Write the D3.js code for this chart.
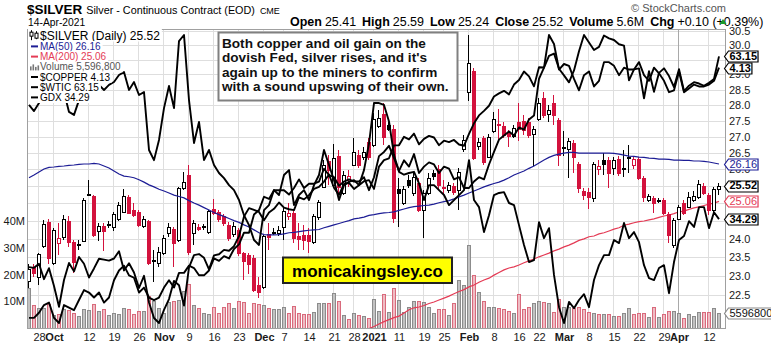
<!DOCTYPE html>
<html><head><meta charset="utf-8">
<script src="https://d3js.org/d3.v7.min.js"></script>
<style>
html,body{margin:0;padding:0;background:#fff;}
svg{display:block;font-family:"Liberation Sans",Arial,Helvetica,sans-serif;}
</style></head><body>
<svg width="771" height="345"></svg>
<script>
// ---------------- DATA ----------------
const dateGroups = [
 ["2020-09",[24,25,28,29,30]],
 ["2020-10",[1,2,5,6,7,8,9,12,13,14,15,16,19,20,21,22,23,26,27,28,29,30]],
 ["2020-11",[2,3,4,5,6,9,10,11,12,13,16,17,18,19,20,23,24,25,27,30]],
 ["2020-12",[1,2,3,4,7,8,9,10,11,14,15,16,17,18,21,22,23,24,28,29,30,31]],
 ["2021-01",[4,5,6,7,8,11,12,13,14,15,19,20,21,22,25,26,27,28,29]],
 ["2021-02",[1,2,3,4,5,8,9,10,11,12,16,17,18,19,22,23,24,25,26]],
 ["2021-03",[1,2,3,4,5,8,9,10,11,12,15,16,17,18,19,22,23,24,25,26,29,30,31]],
 ["2021-04",[1,5,6,7,8,9,12,13,14]]
];
const dates = dateGroups.flatMap(([m,ds]) => ds.map(d => m + "-" + String(d).padStart(2,"0")));

const open = [22.87,23.23,22.97,23.80,24.46,23.35,23.89,24.06,24.49,23.91,
23.86,23.94,25.27,25.21,24.22,24.36,24.42,24.34,24.56,24.76,
25.19,24.81,24.76,24.36,24.49,23.43,23.35,23.62,24.17,24.28,
23.97,25.45,25.83,24.17,24.34,24.35,24.20,24.85,24.76,24.64,
24.39,24.14,24.25,23.62,23.56,23.48,22.76,22.71,24.14,24.20,
24.17,24.34,24.64,24.73,24.08,24.11,24.11,23.91,24.61,25.48,
26.25,25.53,26.40,25.30,25.71,26.13,26.43,26.37,26.83,26.74,
27.33,27.71,27.36,27.23,25.41,25.01,25.68,25.30,25.59,24.81,
25.30,25.89,26.01,25.49,25.39,25.50,25.39,26.62,28.42,29.13,
26.71,26.95,26.37,27.17,27.39,27.33,27.11,27.02,27.46,27.49,
27.46,27.08,27.55,28.21,27.71,28.05,27.52,26.68,26.62,26.80,
26.16,25.36,25.33,25.15,26.01,26.28,26.28,26.04,26.31,26.01,
26.37,26.13,26.31,25.74,25.10,25.15,25.10,25.10,24.70,23.83,
24.56,25.01,24.90,25.10,25.19,25.50,25.24,24.81,25.41];
const high = [23.31,23.31,23.61,24.53,24.56,24.31,24.45,24.67,24.63,23.97,
23.97,25.15,25.68,25.24,24.45,24.45,24.50,24.76,25.04,25.42,
25.24,25.01,24.81,24.64,24.53,23.70,23.78,24.11,24.45,24.33,
25.48,25.93,26.13,24.53,24.42,24.42,24.81,25.13,24.81,24.70,
24.48,24.48,24.31,23.64,23.62,23.56,22.97,24.14,24.45,24.31,
24.36,24.90,25.01,24.79,24.45,24.39,24.31,24.70,25.10,26.28,
26.43,26.78,26.59,25.95,25.98,26.95,26.59,26.68,26.95,27.74,
27.84,28.05,27.46,27.36,25.74,25.50,25.83,25.92,25.74,25.39,
25.89,25.98,26.13,25.68,25.62,25.59,26.04,27.05,30.35,29.22,
26.95,27.02,27.08,27.77,27.87,27.46,27.20,27.36,28.05,27.68,
27.58,27.33,28.21,28.41,28.00,28.32,27.58,27.17,26.95,26.89,
26.22,25.45,25.45,26.22,26.28,26.49,26.37,26.37,26.40,26.59,
26.74,26.40,26.37,25.80,25.27,25.21,25.15,25.15,24.76,24.59,
24.95,25.10,25.33,25.36,25.68,25.59,25.30,25.48,25.59];
const low = [22.68,22.97,22.76,23.75,23.31,23.29,23.56,23.97,23.78,23.08,
23.70,23.91,25.20,24.06,23.94,23.67,24.30,24.22,24.50,24.73,
24.70,24.61,24.33,24.31,23.29,22.84,23.24,23.56,24.06,23.24,
23.91,25.39,23.56,23.83,24.22,24.25,24.14,24.67,24.47,24.36,
23.94,24.06,23.53,22.89,23.05,22.58,22.42,22.66,23.70,24.11,
24.08,23.97,24.53,23.89,23.70,23.70,23.61,23.86,24.53,25.45,
25.53,25.48,25.24,25.24,25.48,26.10,26.04,26.28,26.28,26.68,
27.27,26.74,27.17,24.45,24.33,24.95,25.45,25.21,24.76,24.03,
25.24,25.68,25.39,25.24,25.30,25.24,24.81,26.52,28.13,26.28,
26.59,26.13,26.34,27.11,26.89,26.95,26.68,26.95,26.86,27.05,
26.95,26.10,27.49,27.58,27.46,27.36,26.10,26.40,25.74,25.89,
25.30,25.10,24.84,25.04,25.83,25.83,25.45,25.83,25.80,25.77,
25.89,26.01,25.68,25.04,25.04,24.73,25.01,24.67,23.89,23.75,
24.53,24.67,24.87,25.04,25.13,25.24,24.67,24.76,25.24];
const close = [23.18,23.08,23.59,24.42,23.48,24.25,24.03,24.56,23.91,23.37,
23.83,25.10,25.24,24.11,24.36,24.22,24.39,24.70,24.95,25.21,
24.73,24.67,24.39,24.56,23.35,23.39,23.64,24.03,24.33,23.89,
25.45,25.62,23.64,24.45,24.28,24.33,24.78,24.73,24.56,24.45,
24.03,24.36,23.62,23.40,23.32,22.63,22.58,24.08,24.06,24.19,
24.25,24.78,24.73,24.03,24.00,23.97,23.94,24.64,25.04,26.13,
25.98,26.34,25.48,25.83,25.80,26.52,26.13,26.52,26.37,27.55,
27.58,26.98,27.23,24.58,25.30,25.41,25.53,25.77,24.81,25.30,
25.74,25.80,25.53,25.46,25.53,25.33,25.92,26.89,29.39,26.35,
26.83,26.22,26.98,27.55,27.36,27.05,27.02,27.26,27.24,27.20,
27.05,27.23,28.05,27.68,27.84,27.68,26.43,26.64,26.86,26.37,
25.45,25.24,25.19,26.16,26.10,26.16,25.89,26.28,25.89,26.04,
26.34,26.31,25.74,25.19,25.20,25.01,25.07,24.73,24.11,24.53,
24.90,24.73,25.19,25.21,25.56,25.30,24.81,25.42,25.52];
// volume in millions
const volumeM = [15,8.6,7.5,7.5,9,5,5.2,7,6.8,5.6,
4.5,7,6.6,9,6.3,7,5,5.6,5.4,7.5,
7,5.2,6.4,6.3,12,10.2,7.5,5.6,9.6,10.2,
10.5,13.8,16.5,8.6,7.5,5.6,5.4,7.7,5.6,7.9,
9.2,7.5,10.2,9.8,5.6,9.2,8.9,8.6,7.5,7,
7,7.8,5.6,8.2,5.6,5.4,5.4,6,9.2,9.2,
9.2,13,10,5,3.4,5.6,5,4.6,3.6,10.8,
6.4,12.7,6,15,10.5,6,8,10,10,9.6,
7.8,5.6,7,7,5,9.2,18,16,31,20,
13.5,10,8,7.8,7.5,7,6.5,5.6,12.7,7,
8,9.2,10,9.8,9.2,6,11,7.8,8,7.5,
8,7,6,5.5,5.4,5.4,5.4,4.6,4.6,5.6,
7.5,5.4,5.6,5.6,4.3,8,4.3,5.4,6.4,6.2,
5.6,3.6,5.4,4.6,6,6,6,7.5,5.5968];
const ma50 = [25.75,25.83,25.92,26.01,26.06,26.07,26.09,26.10,26.12,26.13,
26.15,26.16,26.16,26.18,26.16,26.10,26.04,25.95,25.86,25.80,
25.78,25.75,25.69,25.62,25.54,25.48,25.41,25.36,25.30,25.24,
25.20,25.16,25.08,25.01,24.95,24.88,24.81,24.74,24.68,24.63,
24.57,24.51,24.46,24.39,24.33,24.25,24.17,24.12,24.11,24.11,
24.12,24.14,24.17,24.18,24.20,24.22,24.24,24.25,24.26,24.31,
24.35,24.39,24.43,24.47,24.51,24.56,24.58,24.61,24.66,24.68,
24.71,24.73,24.74,24.76,24.80,24.84,24.88,24.91,24.92,24.94,
24.95,24.98,25.02,25.05,25.08,25.13,25.19,25.24,25.30,25.36,
25.42,25.48,25.53,25.58,25.62,25.68,25.75,25.83,25.89,25.95,
26.03,26.10,26.19,26.28,26.36,26.42,26.46,26.49,26.51,26.51,
26.49,26.49,26.49,26.49,26.49,26.49,26.49,26.48,26.46,26.43,
26.40,26.39,26.37,26.36,26.34,26.33,26.31,26.31,26.30,26.28,
26.28,26.27,26.27,26.25,26.25,26.24,26.22,26.19,26.16];
// MA(200): below the visible price range before early January (not shown)
const ma200 = [null,null,null,null,null,null,null,null,null,null,
null,null,null,null,null,null,null,null,null,null,
null,null,null,null,null,null,null,null,null,null,
null,null,null,null,null,null,null,null,null,null,
null,null,null,null,null,null,null,null,null,null,
null,null,null,null,null,null,null,null,null,null,
null,null,null,null,null,null,null,21.59,21.65,21.70,
21.76,21.82,21.87,21.92,21.96,22.04,22.12,22.17,22.19,22.23,
22.28,22.32,22.37,22.42,22.47,22.53,22.59,22.64,22.71,22.76,
22.83,22.89,22.94,23.02,23.09,23.16,23.21,23.24,23.29,23.35,
23.40,23.45,23.51,23.56,23.61,23.67,23.72,23.78,23.83,23.89,
23.96,24.00,24.06,24.08,24.14,24.17,24.22,24.27,24.31,24.38,
24.41,24.45,24.48,24.50,24.53,24.56,24.60,24.64,24.67,24.71,
24.76,24.78,24.83,24.87,24.90,24.94,24.98,25.01,25.06];
const copper = [2.98,2.98,3.00,3.03,3.04,2.98,2.96,3.03,3.02,3.01,
3.05,3.09,3.08,3.06,3.08,3.04,3.06,3.13,3.17,3.19,
3.15,3.14,3.08,3.10,3.06,3.05,3.06,3.10,3.13,3.10,
3.16,3.16,3.19,3.18,3.15,3.15,3.17,3.22,3.21,3.23,
3.22,3.26,3.28,3.33,3.33,3.41,3.43,3.49,3.48,3.52,
3.52,3.52,3.50,3.53,3.57,3.53,3.55,3.55,3.56,3.62,
3.59,3.58,3.54,3.56,3.57,3.56,3.56,3.58,3.52,3.58,
3.68,3.70,3.73,3.67,3.61,3.66,3.63,3.69,3.60,3.63,
3.65,3.64,3.60,3.63,3.62,3.57,3.58,3.53,3.53,3.56,
3.58,3.57,3.64,3.70,3.76,3.78,3.80,3.78,3.82,3.81,
3.86,3.88,4.07,4.13,4.31,4.26,4.12,4.15,4.14,4.07,
4.01,4.09,4.11,4.03,4.06,4.16,4.16,4.14,4.09,4.13,
4.12,4.12,4.16,4.09,4.06,4.13,4.10,4.06,4.00,4.01,
4.11,4.00,4.02,4.04,4.03,4.03,4.04,4.06,4.13];
const wtic = [40.31,40.25,40.60,39.29,40.22,38.72,37.05,39.22,40.67,39.95,
41.19,40.60,39.43,40.20,41.04,40.96,40.88,41.06,41.70,40.03,
40.64,39.85,38.56,39.57,37.39,36.17,35.79,36.81,37.66,39.15,
38.79,37.14,40.29,41.36,41.45,41.12,40.13,41.34,41.43,41.82,
41.74,42.15,43.06,44.91,45.71,45.53,45.34,44.55,45.28,45.64,
46.26,45.76,45.60,45.52,46.78,46.57,46.99,47.62,47.82,48.36,
49.10,47.74,47.02,48.12,48.23,47.62,48.00,48.40,48.52,47.62,
49.93,50.63,50.83,52.24,52.25,53.21,52.91,53.57,52.36,52.98,
53.31,53.13,52.27,52.77,52.61,52.85,52.34,52.20,53.55,54.76,
55.69,56.23,56.85,57.97,58.36,58.68,58.24,59.47,60.05,61.14,
60.52,59.24,61.70,61.67,63.22,63.53,61.50,60.64,59.75,61.28,
63.83,66.09,65.05,64.01,64.44,66.02,65.61,65.39,64.80,64.60,
60.00,61.42,61.55,57.76,61.18,58.56,60.97,61.56,60.55,59.16,
61.45,58.65,59.33,59.77,59.60,59.32,59.70,60.18,63.15];
const gdx = [38.31,38.08,38.38,38.68,38.49,38.87,38.57,38.79,38.05,37.94,
38.49,39.63,39.71,38.94,39.06,38.87,39.06,39.17,39.44,39.55,
38.87,39.17,38.68,38.79,36.67,36.31,37.03,38.19,39.02,38.19,
40.76,41.00,38.49,36.92,37.68,36.31,36.67,36.14,35.86,35.68,
35.44,35.27,34.93,34.42,34.09,33.60,33.44,34.59,34.76,35.27,
35.10,35.79,35.96,34.76,35.10,35.27,34.93,35.44,35.79,36.67,
36.14,35.61,34.93,35.44,35.55,35.61,35.44,35.96,36.90,38.38,
38.38,38.31,37.70,36.49,35.90,35.80,35.86,35.90,35.50,34.93,
35.44,35.44,35.27,35.10,34.76,34.93,35.10,35.27,36.31,34.93,
34.69,33.86,34.42,35.10,35.17,35.20,34.83,34.76,34.09,33.44,
32.89,32.95,34.19,33.66,33.99,32.48,31.48,31.00,31.64,31.45,
31.70,31.88,31.48,32.32,32.79,33.11,33.11,33.60,33.50,34.16,
33.66,33.86,33.53,32.79,32.38,32.32,32.70,32.79,31.91,32.89,
33.60,33.73,34.22,34.03,34.69,34.69,33.99,34.52,34.29];

const priceTicks = [22.5,23,23.5,24,24.5,25,25.5,26,26.5,27,27.5,28,28.5,29,29.5,30,30.5];
const volumeTicks = [10,20,30,40];
const tickDates = ["2020-09-28","2020-10-01","2020-10-12","2020-10-19","2020-10-26","2020-11-02","2020-11-09","2020-11-16","2020-11-23","2020-12-01","2020-12-07","2020-12-14","2020-12-21","2020-12-28","2021-01-04","2021-01-11","2021-01-19","2021-01-25","2021-02-01","2021-02-08","2021-02-16","2021-02-22","2021-03-01","2021-03-08","2021-03-15","2021-03-22","2021-03-29","2021-04-01","2021-04-12"];
const tickLabels = ["28","Oct","12","19","26","Nov","9","16","23","Dec","7","14","21","28","2021","11","19","25","Feb","8","16","22","Mar","8","15","22","29","Apr","12"];
const noteLines = ["Both copper and oil gain on the","dovish Fed, silver rises, and it's","again up to the miners to confirm","with a sound upswing of their own."];

// ---------------- CHART ----------------
const svg = d3.select("svg");
const FONT = '"Liberation Sans", Arial, sans-serif';
const PL = 27, PR = 725, PT = 29, PB = 328;
const RED = "#d3123d", BLUE = "#1d1d95", MA2C = "#e43b55";
const n = dates.length, idx = d3.range(n), last = n - 1;

const x = d3.scalePoint().domain(dates).range([29, 719]);
const y = d3.scaleLog().domain([21.661, 30.557]).range([PB, PT]);
const yVol = d3.scaleLinear().domain([0, 112]).range([PB, PT]);
const ovScale = v => d3.scaleLog().domain(d3.extent(v)).range([323, 35]);
const yCu = ovScale(copper), yOil = ovScale(wtic), yGdx = ovScale(gdx);
const X = i => x(dates[i]);
const down = i => i > 0 ? close[i] < close[i-1] : close[i] < open[i];
const fmt2 = d3.format(".2f");

// right-side value tags (computed first so fully covered tick labels can be skipped)
const tags = [
  {v:yVol(volumeM[last]), t:String(Math.round(volumeM[last]*1e6)), s:"#8a8a8a", c:"#111", b:false},
  {v:yGdx(gdx[last]), t:fmt2(gdx[last]), s:"#000", c:"#000", b:true},
  {v:y(ma200[last]), t:fmt2(ma200[last]), s:MA2C, c:MA2C, b:false},
  {v:y(close[last]), t:fmt2(close[last]), s:"#000", c:"#000", b:true},
  {v:y(ma50[last]), t:fmt2(ma50[last]), s:BLUE, c:BLUE, b:false},
  {v:yOil(wtic[last]), t:fmt2(wtic[last]), s:"#000", c:"#000", b:true},
  {v:yCu(copper[last]), t:fmt2(copper[last]), s:"#000", c:"#000", b:true}
];
const labelTicks = priceTicks.filter(p => !tags.some(t => Math.abs(y(p) - t.v) < 4.8));

svg.append("defs").append("clipPath").attr("id","plotclip")
  .append("rect").attr("x",PL).attr("y",PT).attr("width",PR-PL).attr("height",PB-PT);

// grid
const grid = svg.append("g").attr("shape-rendering","crispEdges");
grid.selectAll("line.h").data(priceTicks).join("line").attr("class","h")
  .attr("x1",PL).attr("x2",PR).attr("y1",d=>Math.round(y(d))+0.5).attr("y2",d=>Math.round(y(d))+0.5)
  .attr("stroke","#dedede");
grid.selectAll("line.v").data(tickDates).join("line").attr("class","v")
  .attr("x1",d=>x(d)-0.5).attr("x2",d=>x(d)-0.5).attr("y1",PT).attr("y2",PB)
  .attr("stroke",d=> d==="2021-04-01" ? "#a9a9a9" : "#dedede");

const plot = svg.append("g").attr("clip-path","url(#plotclip)");

// volume
plot.append("g").attr("shape-rendering","crispEdges").selectAll("rect").data(idx).join("rect")
  .attr("x",i=>X(i)-1.5).attr("width",3)
  .attr("y",i=>Math.round(yVol(volumeM[i]))+0.5)
  .attr("height",i=>PB - Math.round(yVol(volumeM[i])))
  .attr("fill",i=>down(i) ? "#efbcc4" : "#c2c2c2")
  .attr("stroke",i=>down(i) ? "#d96a7c" : "#8c8c8c");

// MA200 & MA50
const maLine = arr => d3.line().defined(i=>arr[i]!=null).x(X).y(i=>y(arr[i]));
plot.append("path").attr("d",maLine(ma200)(idx)).attr("fill","none").attr("stroke",MA2C).attr("stroke-width",1.2);

// candles
const cg = plot.append("g").attr("shape-rendering","crispEdges");
cg.selectAll("line").data(idx).join("line")
  .attr("x1",i=>X(i)-0.5).attr("x2",i=>X(i)-0.5)
  .attr("y1",i=>y(high[i])).attr("y2",i=>y(low[i]))
  .attr("stroke",i=>down(i)?RED:"#000");
cg.selectAll("rect").data(idx).join("rect")
  .attr("x",i=>X(i)-1.5).attr("width",3)
  .attr("y",i=>Math.round(y(Math.max(open[i],close[i])))+0.5)
  .attr("height",i=>Math.max(1, Math.round(y(Math.min(open[i],close[i]))) - Math.round(y(Math.max(open[i],close[i])))))
  .attr("fill",i=> close[i] > open[i] ? "#fff" : (down(i)?RED:"#000"))
  .attr("stroke",i=>down(i)?RED:"#000");

plot.append("path").attr("d",maLine(ma50)(idx)).attr("fill","none").attr("stroke",BLUE).attr("stroke-width",1.2);

// overlays
[[copper,yCu],[wtic,yOil],[gdx,yGdx]].forEach(([arr,sc])=>{
  plot.append("path").attr("d",d3.line().x(X).y(i=>sc(arr[i]))(idx))
    .attr("fill","none").attr("stroke","#000").attr("stroke-width",1.9).attr("stroke-linejoin","round");
});

// border
svg.append("rect").attr("x",PL+0.5).attr("y",PT+0.5).attr("width",PR-PL).attr("height",PB-PT)
  .attr("fill","none").attr("stroke","#a0a0a0").attr("shape-rendering","crispEdges");

// axes
const styleAxis = g => { g.attr("font-family",FONT).attr("font-size",11); g.select(".domain").remove(); g.selectAll("text").attr("fill","#1a1a1a"); };
svg.append("g").attr("transform",`translate(${PR},0)`)
  .call(d3.axisRight(y).tickValues(labelTicks).tickFormat(d3.format(".1f")).tickSize(0).tickPadding(4)).call(styleAxis);
svg.append("g").attr("transform",`translate(${PL},0)`)
  .call(d3.axisLeft(yVol).tickValues(volumeTicks).tickFormat(d=>d+"M").tickSize(0).tickPadding(2)).call(styleAxis);
const xa = svg.append("g").attr("transform",`translate(0,${PB})`)
  .call(d3.axisBottom(x).tickValues(tickDates).tickFormat((d,i)=>tickLabels[i]).tickSize(0).tickPadding(5)).call(styleAxis);
xa.selectAll("text").attr("font-weight",(d,i)=> /^[A-Z]|2021/.test(tickLabels[i]) ? "bold" : null);

// annotation box
const nb = svg.append("g");
nb.append("rect").attr("x",218.5).attr("y",32.5).attr("width",239).attr("height",68)
  .attr("fill","#fff").attr("stroke","#808080").attr("stroke-width",2);
nb.selectAll("text").data(noteLines).join("text")
  .attr("x",222).attr("y",(d,i)=>47.5+i*14.6).text(d=>d)
  .attr("font-family",FONT).attr("font-weight","bold").attr("font-size",13.6).attr("fill","#111");

// website box
const wb = svg.append("g");
wb.append("rect").attr("x",283).attr("y",257.5).attr("width",169).attr("height",25.5)
  .attr("fill","#ffff00").attr("stroke","#222").attr("stroke-width",2);
wb.append("text").attr("x",367.5).attr("y",276.5).attr("text-anchor","middle").text("monicakingsley.co")
  .attr("font-family",FONT).attr("font-weight","bold").attr("font-size",17).attr("fill","#000");

// legend
const legend = [
  {t:`$SILVER (Daily) ${fmt2(close[last])}`, c:"#000", icon:"candle", size:12},
  {t:`MA(50) ${fmt2(ma50[last])}`, c:BLUE, icon:"dash", ic:BLUE},
  {t:`MA(200) ${fmt2(ma200[last])}`, c:MA2C, icon:"dash", ic:MA2C},
  {t:`Volume ${d3.format(",")(Math.round(volumeM[last]*1e6))}`, c:"#555", icon:"vol"},
  {t:`$COPPER ${fmt2(copper[last])}`, c:"#000", icon:"dash", ic:"#000"},
  {t:`$WTIC ${fmt2(wtic[last])}`, c:"#000", icon:"dash", ic:"#000"},
  {t:`GDX ${fmt2(gdx[last])}`, c:"#000", icon:"dash", ic:"#000"}
];
const lg = svg.append("g");
legend.forEach((d,k)=>{
  const base = k===0 ? 39.5 : 50 + (k-1)*10.2;
  const fs = d.size || 10;
  const bg = lg.append("rect").attr("fill","#fff");
  const t = lg.append("text").attr("x",40).attr("y",base).text(d.t)
    .attr("font-family",FONT).attr("font-size",fs).attr("fill",d.c);
  const w = t.node().getComputedTextLength();
  bg.attr("x",28).attr("y",base-fs+1).attr("width",w+14).attr("height",fs+1);
  const cy = base - fs*0.36;
  if (d.icon==="dash") {
    lg.append("line").attr("x1",31).attr("x2",38).attr("y1",cy).attr("y2",cy).attr("stroke",d.ic).attr("stroke-width",2);
  } else if (d.icon==="vol") {
    [[30,4],[32.5,6],[35,3.5],[37.5,5]].forEach(([xx,h])=>lg.append("rect").attr("x",xx).attr("y",base-h).attr("width",1.6).attr("height",h).attr("fill","#777"));
  } else {
    [[31.5,-5,5,-3,2],[36.5,-4,4,-2,3]].forEach(([xx,a,b,c,h])=>{
      lg.append("line").attr("x1",xx).attr("x2",xx).attr("y1",cy+a).attr("y2",cy+b).attr("stroke","#000");
      lg.append("rect").attr("x",xx-1.5).attr("y",cy+c).attr("width",3).attr("height",h+2).attr("fill","#fff").attr("stroke","#000");
    });
  }
});

// draw tags
const tg = svg.append("g");
tags.forEach(d=>{
  const poly = tg.append("polygon");
  const t = tg.append("text").attr("x",729.5).attr("y",d.v).attr("dy","0.36em").text(d.t)
    .attr("font-family",FONT).attr("font-size",11).attr("font-weight",d.b?"bold":null).attr("fill",d.c);
  const w = t.node().getComputedTextLength();
  const yc = Math.round(d.v)+0.5, r = 729 + w + 1.5;
  poly.attr("points",[[724.5,yc],[728.5,yc-5.5],[r,yc-5.5],[r,yc+5.5],[728.5,yc+5.5]].join(" "))
    .attr("fill","#fff").attr("stroke",d.s).attr("stroke-width",1.2);
});

// header
const hd = svg.append("g").attr("font-family",FONT);
const h1 = hd.append("text").attr("x",27).attr("y",14);
h1.append("tspan").attr("font-weight","bold").attr("font-size",13.5).text("$SILVER");
h1.append("tspan").attr("font-size",10.8).attr("dx",4).text("Silver - Continuous Contract (EOD)");
h1.append("tspan").attr("font-size",9).attr("dx",5).text("CME");
hd.append("text").attr("x",28).attr("y",26).attr("font-size",10.3).text("14-Apr-2021");
hd.append("text").attr("x",726).attr("y",12).attr("text-anchor","end").attr("font-size",11).attr("fill","#555").text("\u00A9 StockCharts.com");
const chg = close[last]-close[last-1];
const ohlc = [["Open",fmt2(open[last])],["High",fmt2(high[last])],["Low",fmt2(low[last])],["Close",fmt2(close[last])],["Volume",d3.format(".1f")(volumeM[last])+"M"],["Chg",`${chg>=0?"+":""}${fmt2(chg)} (${chg>=0?"+":""}${fmt2(chg/close[last-1]*100)}%)`]];
const ot = hd.append("text").attr("x",290).attr("y",25.5).attr("font-size",11);
ohlc.forEach(([k,v],j)=>{
  ot.append("tspan").attr("font-weight","bold").attr("dx", j? 6 : 0).text(k);
  ot.append("tspan").attr("dx",3).text(v);
});
const ow = ot.node().getComputedTextLength();
ot.attr("font-size",11*426/ow);
hd.append("polygon").attr("points","719.5,24 726.5,24 723,19").attr("fill","#1a9a2a");
</script>
</body></html>
